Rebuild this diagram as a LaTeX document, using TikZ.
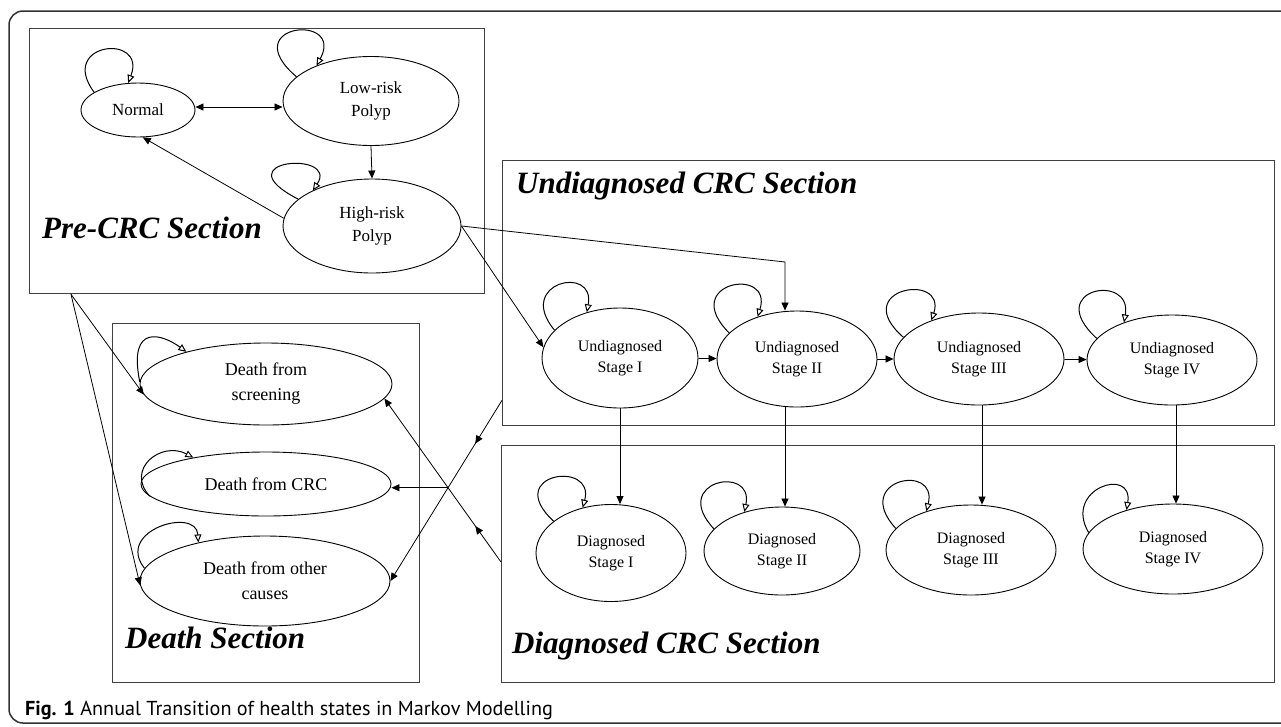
\documentclass[tikz,border=0pt]{standalone}
\usepackage{fontspec}
\setmainfont{Liberation Serif}
\newfontfamily\capfont{PT Sans}
\usetikzlibrary{arrows.meta,shapes.geometric,decorations.markings}
\begin{document}
\begin{tikzpicture}[x=1pt,y=1pt,
  st/.style={ellipse,draw,line width=0.9pt,inner sep=0pt,align=center},
  fa/.style={font=\fontsize{17}{23}\selectfont},
  fb/.style={font=\fontsize{18}{25}\selectfont},
  fc/.style={font=\fontsize{16}{21}\selectfont},
  sec/.style={draw=black!75,line width=1.3pt,rectangle,anchor=north west,inner sep=0pt},
  ttl/.style={anchor=base west,inner sep=0pt,font=\fontsize{31}{36}\selectfont\bfseries\itshape},
  arr/.style={line width=0.8pt,-{Triangle[length=8pt,width=7pt]}},
  self/.style={line width=1pt,-{Triangle[open,length=8pt,width=7pt,fill=white]}},
  midarr/.style={postaction={decorate},decoration={markings,mark=at position #1 with {\arrow{Triangle[length=8pt,width=7pt]}}}},
]
\useasboundingbox (0,0) rectangle (1281,-726);
\fill[white] (0,0) rectangle (1281,-726);
% outer frame
\draw[line width=1.5pt,black!80] (1281,-11) -- (23,-11) arc[start angle=90,end angle=180,radius=14] -- (9,-709) arc[start angle=180,end angle=270,radius=14] -- (1281,-723);

% section boxes
\node[sec,minimum width=455,minimum height=265] (pre) at (29,-28) {};
\node[sec,minimum width=307,minimum height=359] (death) at (112,-323) {};
\node[sec,minimum width=772,minimum height=265] (ubox) at (502,-160) {};
\node[sec,minimum width=773,minimum height=237] (dbox) at (501,-445) {};

% titles
\node[ttl] (tpre) at (42,-238) {Pre-CRC Section};
\node[ttl] (tund) at (516,-193) {Undiagnosed CRC Section};
\node[ttl] (tdea) at (125,-648) {Death Section};
\node[ttl] (tdia) at (512,-653) {Diagnosed CRC Section};

% states
\node[st,fa,minimum width=114,minimum height=54] (normal) at (138,-110) {Normal};
\node[st,fa,minimum width=176,minimum height=89] (low) at (371,-101) {Low-risk\\Polyp};
\node[st,fa,minimum width=178,minimum height=94] (hr) at (372,-226) {High-risk\\Polyp};

\node[st,fb,minimum width=252,minimum height=82] (ds) at (266,-384) {Death from\\screening};
\node[st,fb,minimum width=250,minimum height=64] (dc) at (266,-484) {Death from CRC};
\node[st,fb,minimum width=250,minimum height=90] (do) at (265,-581) {Death from other\\causes};

\node[st,fc,minimum width=156,minimum height=100] (u1) at (620,-358) {Undiagnosed\\Stage I};
\node[st,fc,minimum width=160,minimum height=96] (u2) at (797,-359) {Undiagnosed\\Stage II};
\node[st,fc,minimum width=170,minimum height=92] (u3) at (979,-359) {Undiagnosed\\Stage III};
\node[st,fc,minimum width=170,minimum height=90] (u4) at (1172,-360) {Undiagnosed\\Stage IV};

\node[st,fc,minimum width=150,minimum height=97] (d1) at (611,-553) {Diagnosed\\Stage I};
\node[st,fc,minimum width=156,minimum height=88] (d2) at (782,-551) {Diagnosed\\Stage II};
\node[st,fc,minimum width=170,minimum height=90] (d3) at (971,-550) {Diagnosed\\Stage III};
\node[st,fc,minimum width=180,minimum height=90] (d4) at (1173,-549) {Diagnosed\\Stage IV};

% self loops
\draw[self] (normal.158) .. controls +(-37,50) and +(19,50) .. (normal.110);
\draw[self] (low.162) .. controls +(-62,53) and +(29,53) .. (low.147);
\draw[self] (hr.160) .. controls +(-78,40) and +(27,40) .. (hr.149);
\draw[self] (ds.179) .. controls +(-12,60) and +(-23,17) .. (ds.158);
\draw[self] (dc.186) .. controls +(-25,27) and +(-32,17) .. (dc.160);
\draw[self] (do.174) .. controls +(-30,38) and +(-2,36) .. (do.150);
\draw[self] (u1.157) .. controls +(-40,48) and +(9,48) .. (u1.126);
\draw[self] (u2.159) .. controls +(-51,51) and +(16,51) .. (u2.133);
\draw[self] (u3.164) .. controls +(-56,49) and +(16,49) .. (u3.141);
\draw[self] (u4.164) .. controls +(-55,50) and +(9,50) .. (u4.142);
\draw[self] (d1.151) .. controls +(-52,48) and +(13,48) .. (d1.122);
\draw[self] (d2.162) .. controls +(-45,48) and +(10,48) .. (d2.134);
\draw[self] (d3.164) .. controls +(-45,49) and +(12,49) .. (d3.139);
\draw[self] (d4.169) .. controls +(-26,44) and +(7,44) .. (d4.140);

% pre-CRC transitions
\draw[line width=0.8pt,{Triangle[length=8pt,width=7pt]}-{Triangle[length=8pt,width=7pt]}] ([yshift=3]normal.east) -- ([yshift=3]normal.east -| low.west);
\draw[arr] (low.south) -- (hr.north);
\draw[arr] (hr.175) -- (normal.-80);

% into undiagnosed
\coordinate (bend) at (785,-262);
\draw[arr] (hr.east) -- (u1.172);
\draw[arr] (hr.east) -- (bend) -- (bend |- u2.north);

\draw[arr] (u1) -- (u2);
\draw[arr] (u2) -- (u3);
\draw[arr] (u3) -- (u4);

\draw[arr] (u1.south) -- (u1.south |- d1.north);
\draw[arr] ([xshift=-12]u2.south) -- ([xshift=-12]u2.south |- d2.north);
\draw[arr] ([xshift=3]u3.south) -- ([xshift=3]u3.south |- d3.north);
\draw[arr] ([xshift=4]u4.south) -- ([xshift=4]u4.south |- d4.north);

% to death
\coordinate (pb) at ([xshift=42]pre.south west);
\draw[arr] (pb) -- (ds.185);
\draw[arr] (pb) -- (do.182);

\coordinate (us) at ([yshift=26]ubox.south west);
\coordinate (dbs) at ([yshift=-117]dbox.north west);
\coordinate (doE) at (do.east);
\coordinate (dsE) at (ds.-7);
\draw[arr,midarr=0.24] (us) -- (doE);
\draw[arr,midarr=0.22] (dbs) -- (dsE);
\coordinate (xc) at (intersection of us--doE and dbs--dsE);
\draw[arr] (xc) -- (xc -| dc.east);

% caption
\node[anchor=base west,inner sep=0pt,font=\capfont\fontsize{20.2}{24}\selectfont] (cap) at (25,-715) {\textbf{Fig. 1} Annual Transition of health states in Markov Modelling};
\end{tikzpicture}
\end{document}
